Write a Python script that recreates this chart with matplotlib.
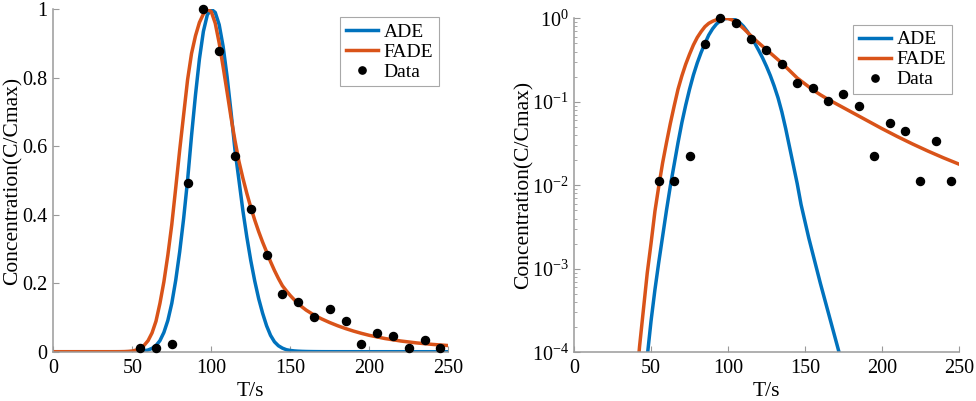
import numpy as np
import matplotlib
matplotlib.use("Agg")
import matplotlib.pyplot as plt
from matplotlib.ticker import LogLocator, NullFormatter

plt.rcParams['font.family'] = ['Liberation Serif', 'DejaVu Serif']
plt.rcParams['mathtext.fontset'] = 'custom'
plt.rcParams['mathtext.rm'] = 'Liberation Serif'

# ---- data ----
data_t = [55, 65, 75, 85, 95, 105, 115, 125, 135, 145, 155, 165, 175, 185,
          195, 205, 215, 225, 235, 245]
data_c = [0.0112, 0.0112, 0.0225, 0.494, 1.0, 0.878, 0.573, 0.416, 0.283,
          0.169, 0.146, 0.101, 0.124, 0.090, 0.0225, 0.056, 0.045, 0.0112,
          0.034, 0.0112]

# ADE model curve: time (s) and log10 of C/Cmax
ade_t = [0, 30, 40, 42.5, 45, 47.5, 50, 52.5, 55, 57.5, 60, 62.5, 65, 67.5,
         70, 72.5, 75, 77.5, 80, 82.5, 85, 87.5, 90, 92.5, 95, 97.5, 100,
         102.5, 105, 107.5, 110, 112.5, 115, 117.5, 120, 122.5, 125, 127.5,
         130, 132.5, 135, 137.5, 140, 142.5, 145, 147.5, 150, 152.5, 155,
         157.5, 160, 162.5, 165, 167.5, 170, 172.5, 175, 185, 200, 225, 250]
ade_log = [-30, -8.0, -5.9, -5.0, -4.5, -4.05, -3.62, -3.25, -2.92, -2.61,
           -2.30, -2.01, -1.75, -1.49, -1.25, -1.04, -0.85, -0.68, -0.535,
           -0.41, -0.30, -0.20, -0.125, -0.068, -0.029, -0.007, 0.0,
           -0.004, -0.02, -0.05, -0.095, -0.155, -0.23, -0.30, -0.385,
           -0.475, -0.575, -0.685, -0.81, -0.95, -1.12, -1.32, -1.54, -1.76,
           -1.98, -2.23, -2.43, -2.63, -2.81, -2.99, -3.17, -3.34, -3.51,
           -3.68, -3.85, -4.02, -4.19, -4.9, -6.0, -8.0, -10.0]

# FADE model curve: time (s) and log10 of C/Cmax
fade_t = [0, 30, 35, 40, 42.5, 45, 47.5, 50, 52.5, 55, 57.5, 60, 62.5, 65,
          67.5, 70, 72.5, 75, 77.5, 80, 82.5, 85, 87.5, 90, 92.5, 95, 97.5,
          100, 102.5, 105, 107.5, 110, 112.5, 115, 117.5, 120, 122.5, 125,
          127.5, 130, 132.5, 135, 137.5, 140, 142.5, 145, 147.5, 150, 155,
          160, 165, 170, 175, 180, 185, 190, 195, 200, 210, 220, 230, 240,
          250]
fade_log = [-30, -8.5, -6.3, -4.45, -3.93, -3.49, -3.05, -2.69, -2.31, -2.01,
            -1.73, -1.49, -1.26, -1.05, -0.85, -0.69, -0.55, -0.43, -0.32,
            -0.23, -0.16, -0.10, -0.06, -0.035, -0.017, -0.006, 0.0, -0.003,
            -0.018, -0.045, -0.08, -0.12, -0.165, -0.21, -0.255, -0.295,
            -0.335, -0.375, -0.415, -0.455, -0.495, -0.535, -0.58, -0.625,
            -0.67, -0.715, -0.75, -0.785, -0.855, -0.915, -0.97, -1.02,
            -1.07, -1.12, -1.17, -1.22, -1.27, -1.32, -1.415, -1.505, -1.59,
            -1.67, -1.745]

x_ticks = [0, 50, 100, 150, 200, 250]
y_ticks_lin = [0, 0.2, 0.4, 0.6, 0.8, 1]
y_ticklabels_lin = ['0', '0.2', '0.4', '0.6', '0.8', '1']
legend_labels = ['ADE', 'FADE', 'Data']
x_label = 'T/s'
y_label = 'Concentration(C/Cmax)'

ade_c = 10.0 ** np.array(ade_log)
fade_c = 10.0 ** np.array(fade_log)

BLUE = '#0072BD'
ORANGE = '#D95319'
AXC = '#9a9a9a'

fig = plt.figure(figsize=(9.76, 4.01), dpi=100)
ax1 = fig.add_axes([0.0546, 0.1229, 0.4047, 0.8539])
ax2 = fig.add_axes([0.5883, 0.1214, 0.3940, 0.8329])


def style(ax):
    for s in ['top', 'right']:
        ax.spines[s].set_visible(False)
    for s in ['left', 'bottom']:
        ax.spines[s].set_color(AXC)
        ax.spines[s].set_linewidth(1.1)
    ax.tick_params(which='both', direction='in', color=AXC, labelcolor='black',
                   labelsize=14.5)
    ax.tick_params(which='major', length=4, width=0.8)
    ax.tick_params(which='minor', length=2.5, width=0.6)
    ax.tick_params(axis='x', pad=5)
    ax.tick_params(axis='y', pad=4)


for ax in (ax1, ax2):
    ax.plot(ade_t, ade_c, color=BLUE, lw=2.5, label=legend_labels[0])
    ax.plot(fade_t, fade_c, color=ORANGE, lw=2.5, label=legend_labels[1])
    ax.plot(data_t, data_c, 'o', color='black', ms=5.8,
            label=legend_labels[2], clip_on=False, zorder=5)
    ax.set_xlim(0, 250)
    ax.set_xticks(x_ticks)
    ax.set_xlabel(x_label, fontsize=15.5)
    ax.set_ylabel(y_label, fontsize=15.5)
    style(ax)

ax1.set_ylim(0, 1)
ax1.set_yticks(y_ticks_lin)
ax1.set_yticklabels(y_ticklabels_lin)

ax2.set_yscale('log')
ax2.set_ylim(1e-4, 1)
ax2.yaxis.set_major_locator(LogLocator(base=10, numticks=10))
ax2.yaxis.set_minor_locator(LogLocator(base=10, subs=np.arange(2, 10), numticks=10))
ax2.yaxis.set_minor_formatter(NullFormatter())

ax1.yaxis.set_label_coords(-0.078, 0.5)
ax2.yaxis.set_label_coords(-0.106, 0.5)
ax1.xaxis.set_label_coords(0.5, -0.088)
ax2.xaxis.set_label_coords(0.5, -0.090)

for ax, anchor in ((ax1, (0.977, 0.977)), (ax2, (0.983, 0.98))):
    leg = ax.legend(loc='upper right', bbox_to_anchor=anchor, borderaxespad=0,
                    fontsize=14, frameon=True, fancybox=False, framealpha=1,
                    edgecolor='#a8a8a8', handlelength=1.65, handletextpad=0.3,
                    labelspacing=0.12, borderpad=0.3, markerscale=0.9)
    leg.get_frame().set_linewidth(0.8)

fig.savefig('out.png', dpi=100)
